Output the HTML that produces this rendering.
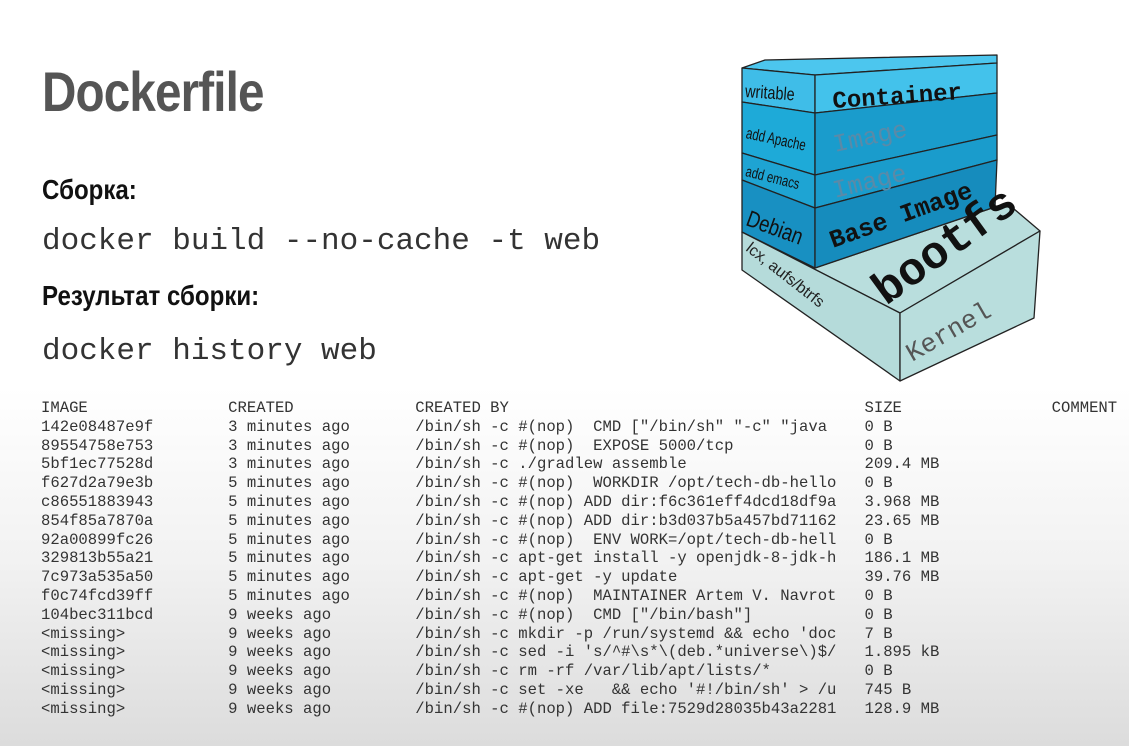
<!DOCTYPE html>
<html><head><meta charset="utf-8"><style>
html,body{margin:0;padding:0}
body{width:1129px;height:746px;overflow:hidden;position:relative;background:linear-gradient(#ffffff 0,#ffffff 52%,#f2f2f2 75%,#dcdcdc 100%);font-family:"Liberation Sans",sans-serif}
.t{position:absolute;left:42px;white-space:pre;transform-origin:0 0}
.h1{top:62px;font-weight:bold;font-size:56px;color:#555;letter-spacing:-1px;line-height:60px;transform:scaleX(0.85)}
.h2{font-weight:bold;font-size:28px;color:#111;line-height:32px;transform:scaleX(0.86)}
.cmd{font-family:"Liberation Mono",monospace;font-size:31px;color:#333;line-height:36px}
.tbl{position:absolute;left:41px;top:399px;font-family:"Liberation Mono",monospace;font-size:15.6px;line-height:18.8px;color:#333;white-space:pre;margin:0}
</style></head><body>
<div class="t h1">Dockerfile</div>
<div class="t h2" style="top:174px">Сборка:</div>
<div class="t cmd" style="top:224px">docker build --no-cache -t web</div>
<div class="t h2" style="top:280px">Результат сборки:</div>
<div class="t cmd" style="top:334px">docker history web</div>
<pre class="tbl">IMAGE               CREATED             CREATED BY                                      SIZE                COMMENT
142e08487e9f        3 minutes ago       /bin/sh -c #(nop)  CMD ["/bin/sh" "-c" "java    0 B
89554758e753        3 minutes ago       /bin/sh -c #(nop)  EXPOSE 5000/tcp              0 B
5bf1ec77528d        3 minutes ago       /bin/sh -c ./gradlew assemble                   209.4 MB
f627d2a79e3b        5 minutes ago       /bin/sh -c #(nop)  WORKDIR /opt/tech-db-hello   0 B
c86551883943        5 minutes ago       /bin/sh -c #(nop) ADD dir:f6c361eff4dcd18df9a   3.968 MB
854f85a7870a        5 minutes ago       /bin/sh -c #(nop) ADD dir:b3d037b5a457bd71162   23.65 MB
92a00899fc26        5 minutes ago       /bin/sh -c #(nop)  ENV WORK=/opt/tech-db-hell   0 B
329813b55a21        5 minutes ago       /bin/sh -c apt-get install -y openjdk-8-jdk-h   186.1 MB
7c973a535a50        5 minutes ago       /bin/sh -c apt-get -y update                    39.76 MB
f0c74fcd39ff        5 minutes ago       /bin/sh -c #(nop)  MAINTAINER Artem V. Navrot   0 B
104bec311bcd        9 weeks ago         /bin/sh -c #(nop)  CMD ["/bin/bash"]            0 B
&lt;missing&gt;           9 weeks ago         /bin/sh -c mkdir -p /run/systemd &amp;&amp; echo 'doc   7 B
&lt;missing&gt;           9 weeks ago         /bin/sh -c sed -i 's/^#\s*\(deb.*universe\)$/   1.895 kB
&lt;missing&gt;           9 weeks ago         /bin/sh -c rm -rf /var/lib/apt/lists/*          0 B
&lt;missing&gt;           9 weeks ago         /bin/sh -c set -xe   &amp;&amp; echo '#!/bin/sh' &gt; /u   745 B
&lt;missing&gt;           9 weeks ago         /bin/sh -c #(nop) ADD file:7529d28035b43a2281   128.9 MB</pre>

<svg style="position:absolute;left:0;top:0" width="1129" height="746" viewBox="0 0 1129 746">
<g stroke="#222" stroke-width="1.3" stroke-linejoin="round">
<polygon points="742,232 815,268 1007,203 1040,231 900,313 742,232" fill="#b9dedd"/>
<polygon points="742,232 900,313 900,381 742,270" fill="#b5dbda"/>
<polygon points="900,313 1040,231 1034,318 900,381" fill="#b9dedd"/>
<polygon points="742,68 765,60 997,55 997,63 815,75" fill="#4cc6ee"/>
<polygon points="742,68 815,75 815,113 742,102" fill="#3fbde8"/>
<polygon points="742,102 815,113 815,175 742,153" fill="#1eaad8"/>
<polygon points="742,153 815,175 815,208 742,180" fill="#1ea4d3"/>
<polygon points="742,180 815,208 815,268 742,232" fill="#1890c2"/>
<polygon points="815,75 997,63 997,93 815,113" fill="#43c2eb"/>
<polygon points="815,113 997,93 997,135 815,175" fill="#1a9ccc"/>
<polygon points="815,175 997,135 997,160 815,208" fill="#1a9ccc"/>
<polygon points="815,208 997,160 995,207 815,268" fill="#168cbd"/>
</g>
<g font-family="Liberation Sans, sans-serif" fill="#111">
<text x="745" y="97" font-size="18" transform="rotate(4 745 97) scale(0.8 1) translate(186 0)">writable</text>
<text x="745" y="138" font-size="16" transform="rotate(12 745 138) scale(0.72 1) translate(290 0)">add Apache</text>
<text x="745" y="176" font-size="15" transform="rotate(14 745 176) scale(0.75 1) translate(248 0)">add emacs</text>
<text x="745" y="225" font-size="23" transform="rotate(20 745 225) scale(0.8 1) translate(186 0)">Debian</text>
<text x="745" y="250" font-size="16" transform="rotate(38 745 250)" fill="#222">lcx, aufs/btrfs</text>
</g>
<g font-family="Liberation Mono, monospace">
<text x="833" y="108" font-size="24" font-weight="bold" fill="#111" transform="rotate(-4 833 108)">Container</text>
<text x="835" y="152" font-size="25" fill="#5a8aa8" transform="rotate(-12 835 152)">Image</text>
<text x="835" y="198" font-size="25" fill="#5a8aa8" transform="rotate(-14 835 198)">Image</text>
<text x="833" y="248" font-size="25" font-weight="bold" fill="#111" transform="rotate(-20 833 248)">Base Image</text>
<text x="886" y="306" font-size="46" font-weight="bold" fill="#111" transform="rotate(-36 886 306)">bootfs</text>
<text x="912" y="362" font-size="26" fill="#555" transform="rotate(-30 912 362)">Kernel</text>
</g>
</svg>
</body></html>
